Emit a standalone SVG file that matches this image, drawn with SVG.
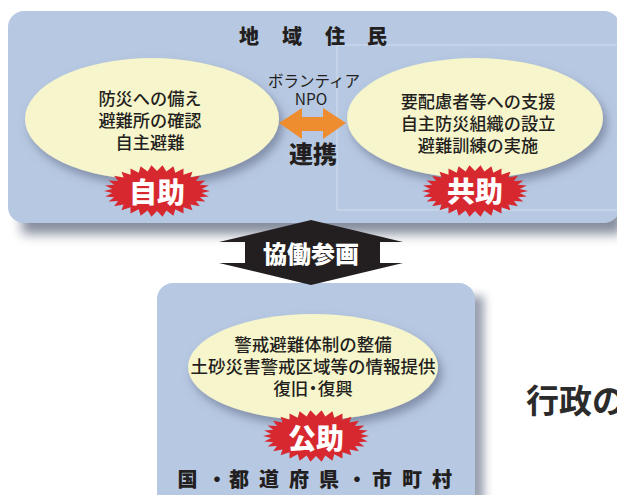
<svg xmlns="http://www.w3.org/2000/svg" width="617" height="495" viewBox="0 0 617 495">
<defs>
<style>
text{font-family:"Noto Sans CJK JP","Noto Sans",sans-serif;fill:#231f20}
.panel{fill:#b7c8e2}
.ell{fill:#f7f5cb;filter:url(#ds)}
.body{font-size:17.2px;font-weight:500;text-anchor:middle;dominant-baseline:central}
.star{fill:#d7282f}
.stext{font-size:28px;font-weight:900;fill:#fff;text-anchor:middle;dominant-baseline:central}
.head{font-size:20px;font-weight:900;text-anchor:middle;dominant-baseline:central}
</style>
<filter id="ds" x="-20%" y="-20%" width="150%" height="160%">
<feDropShadow dx="4" dy="6" stdDeviation="5" flood-color="#55607a" flood-opacity="0.55"/>
</filter>
<filter id="blur" x="-10%" y="-50%" width="120%" height="200%">
<feGaussianBlur stdDeviation="6"/>
</filter>
<filter id="blur2" x="-50%" y="-10%" width="200%" height="120%">
<feGaussianBlur stdDeviation="5"/>
</filter>
<polygon id="burst" points="53,0 44.75,2.09 51.84,5.41 42.8,6.18 48.42,10.57 38.97,10 42.88,15.28 33.44,13.38 35.46,19.32 26.45,16.18 26.5,22.52 18.3,18.27 16.38,24.73 9.36,19.56 5.54,25.86 0,20 -5.54,25.86 -9.36,19.56 -16.38,24.73 -18.3,18.27 -26.5,22.52 -26.45,16.18 -35.46,19.32 -33.44,13.38 -42.88,15.28 -38.97,10 -48.42,10.57 -42.8,6.18 -51.84,5.41 -44.75,2.09 -53,0 -44.75,-2.09 -51.84,-5.41 -42.8,-6.18 -48.42,-10.57 -38.97,-10 -42.88,-15.28 -33.44,-13.38 -35.46,-19.32 -26.45,-16.18 -26.5,-22.52 -18.3,-18.27 -16.38,-24.73 -9.36,-19.56 -5.54,-25.86 0,-20 5.54,-25.86 9.36,-19.56 16.38,-24.73 18.3,-18.27 26.5,-22.52 26.45,-16.18 35.46,-19.32 33.44,-13.38 42.88,-15.28 38.97,-10 48.42,-10.57 42.8,-6.18 51.84,-5.41 44.75,-2.09"/>
</defs>
<rect x="0" y="0" width="617" height="495" fill="#ffffff"/>

<g id="residents">
<rect x="22" y="200" width="600" height="34" fill="#5c667c" opacity="0.75" filter="url(#blur)"/>
<rect class="panel" x="8" y="11" width="612" height="212" rx="16"/>
<rect x="337" y="45" width="290" height="165" fill="none" stroke="#d3def0" stroke-width="1"/>
<text class="head" x="249" y="35">地</text>
<text class="head" x="292" y="35">域</text>
<text class="head" x="335" y="35">住</text>
<text class="head" x="377" y="35">民</text>
</g>

<g id="jijo">
<ellipse class="ell" cx="152" cy="119" rx="127" ry="61"/>
<text class="body" x="150" y="97.5">防災への備え</text>
<text class="body" x="150" y="119.5">避難所の確認</text>
<text class="body" x="150" y="141">自主避難</text>
<use href="#burst" class="star" x="157" y="191"/>
<text class="stext" x="157" y="191">自助</text>
</g>

<g id="kyojo">
<ellipse class="ell" cx="475" cy="118" rx="128" ry="60"/>
<text class="body" x="478" y="100.5">要配慮者等への支援</text>
<text class="body" x="478" y="122.5">自主防災組織の設立</text>
<text class="body" x="478" y="144">避難訓練の実施</text>
<use href="#burst" class="star" x="475" y="191"/>
<text class="stext" x="475" y="190">共助</text>
</g>

<g id="gov">
<rect x="462" y="296" width="22" height="220" fill="#6d778c" opacity="0.7" filter="url(#blur2)"/>
<rect class="panel" x="157" y="283" width="318" height="230" rx="16"/>
<ellipse class="ell" cx="313" cy="367" rx="125" ry="53"/>
<text class="body" x="313" y="343.5" style="font-size:17.5px">警戒避難体制の整備</text>
<text class="body" x="313" y="365" style="font-size:17.5px">土砂災害警戒区域等の情報提供</text>
<text class="body" x="313" y="387" style="font-size:17.5px">復旧<tspan dx="-4">・</tspan><tspan dx="-4">復興</tspan></text>
<use href="#burst" class="star" x="316" y="436"/>
<text class="stext" x="316" y="437">公助</text>
<text class="head" x="187.5 217 239 269 299 329 357 382 412 442" y="478.5">国・都道府県・市町村</text>
</g>

<g id="connectors">
<text x="314" y="79.5" style="font-size:15.5px;text-anchor:middle;dominant-baseline:central">ボランティア</text>
<text x="311" y="97.5" style="font-size:15.5px;text-anchor:middle;dominant-baseline:central">NPO</text>
<polygon points="279,123 302,108 302,117 323,117 323,108 346,123 323,139 323,131 302,131 302,139" fill="#ee8d2f"/>
<text x="313" y="152.5" style="font-size:24px;font-weight:900;text-anchor:middle;dominant-baseline:central">連携</text>
<polygon points="311,220 403,242 380,242 380,263 403,263 311,285 219,263 245,263 245,242 219,242" fill="#231f20"/>
<text x="311" y="252.5" style="font-size:24px;font-weight:900;fill:#fff;text-anchor:middle;dominant-baseline:central">協働参画</text>
</g>

<text x="526" y="399" style="font-size:33px;font-weight:700;fill:#2b2b2b;dominant-baseline:central">行政の</text>
</svg>
